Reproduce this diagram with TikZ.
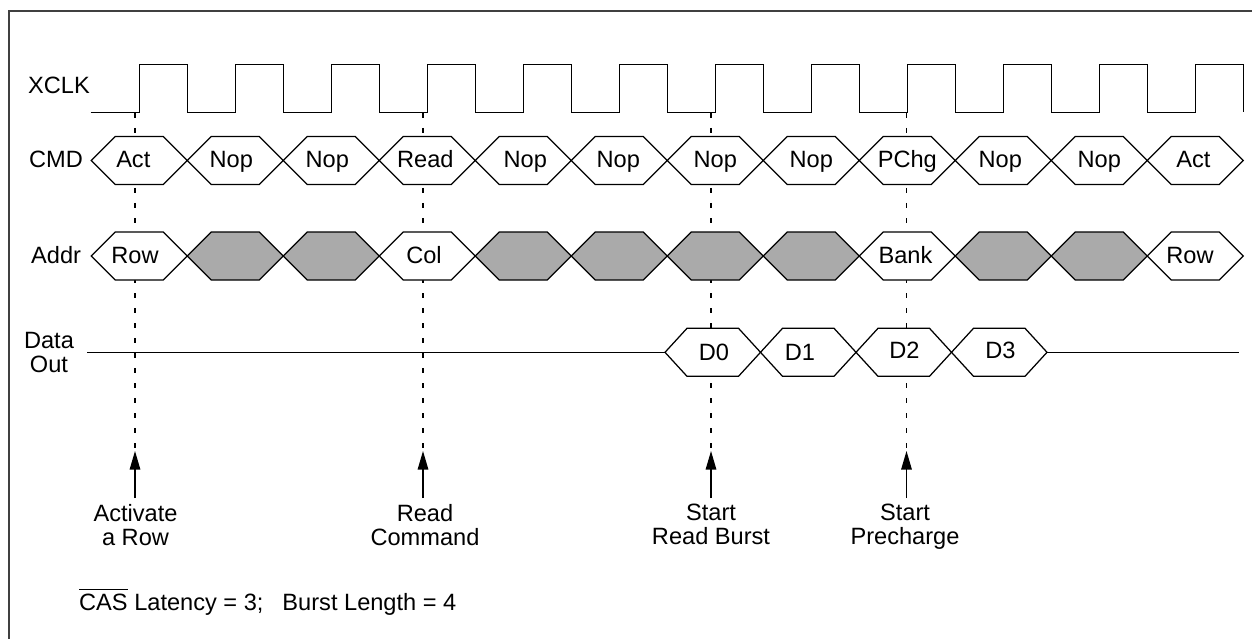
\documentclass[tikz,border=0pt]{standalone}
\usepackage{fontspec}
\setmainfont{Liberation Sans}
\usetikzlibrary{arrows.meta}
\definecolor{busygray}{RGB}{170,170,170}
\newcommand\hexcell[5]{%
  \path[#5] (#1,#3) -- ({#1+#4},{#3-24}) -- ({#2-#4},{#3-24}) -- (#2,#3)
    -- ({#2-#4},{#3+24}) -- ({#1+#4},{#3+24}) -- cycle;}
\newcommand\ovbar[1]{\leavevmode\setbox0=\hbox{#1}\rlap{\raisebox{\dimexpr\ht0+3.2pt\relax}{\rule{\wd0}{1.1pt}}}\box0\relax}
\begin{document}
\begin{tikzpicture}[x=1pt,y=-1pt,
  sig/.style={line width=1.25pt, line join=miter},
  cell/.style={sig, draw=black, fill=white},
  busy/.style={sig, draw=black, fill=busygray},
  lbl/.style={font=\fontsize{23.6}{24}\selectfont, inner sep=0pt, anchor=base},
  note/.style={font=\fontsize{23.6}{24}\selectfont, inner sep=0pt, align=center, anchor=north},
  guide/.style={line width=1.1pt, dash pattern=on 5pt off 10pt},
  marker/.style={line width=1.25pt, -{Triangle[length=18.5pt,width=10.5pt]}}]
\useasboundingbox (0,0) rectangle (1252,639);
% frame
\draw[line width=1.5pt, black!75] (9,639) -- (9,11) -- (1252,11);
% guide lines and arrows
\foreach \i/\x in {a/135, r/423, b/711, p/906.5} {
  \coordinate (top\i) at (\x,113);
  \coordinate (tip\i) at (\x,451);
  \coordinate (tail\i) at (\x,498);
  \draw[guide] (top\i) -- (tip\i);
  \draw[marker] (tail\i) -- (tip\i);
}
% clock
\draw[sig] (90.7,112.5) foreach \k in {0,...,11} { -| ({139.3+96*\k},64.3) -| ({187.3+96*\k},112.5) };
% CMD row
\foreach \k in {0,...,11} {
  \pgfmathsetmacro\xa{91.3+96*\k}\pgfmathsetmacro\xb{\xa+96}
  \hexcell{\xa}{\xb}{160.5}{24}{cell}
}
\foreach \t/\o [count=\k from 0] in {Act/-6, Nop/-4, Nop/-4, Read/-2, Nop/2, Nop/-1, Nop/0, Nop/0, PChg/0, Nop/-3, Nop/0, Act/-2} {
  \node[lbl] (cmd\k) at ({139.3+96*\k+\o},168) {\t};
}
% Addr row
\foreach \k in {0,3,8,11} {
  \pgfmathsetmacro\xa{91.3+96*\k}\pgfmathsetmacro\xb{\xa+96}
  \hexcell{\xa}{\xb}{256}{24}{cell}
}
\foreach \k in {1,2,4,5,6,7,9,10} {
  \pgfmathsetmacro\xa{91.3+96*\k}\pgfmathsetmacro\xb{\xa+96}
  \hexcell{\xa}{\xb}{256}{24}{busy}
}
\node[lbl] (addr0) at (135,263.5) {Row};
\node[lbl] (addr3) at (424,263.5) {Col};
\node[lbl] (addr8) at (905.5,263.5) {Bank};
\node[lbl] (addr11) at (1190,263.5) {Row};
% Data Out row
\coordinate (dl0) at (87,352.3);
\coordinate (dl1) at (665,352.3);
\coordinate (dr0) at (1047,352.3);
\coordinate (dr1) at (1239,352.3);
\draw[sig] (dl0) -- (dl1);
\draw[sig] (dr0) -- (dr1);
\foreach \k in {0,...,3} {
  \pgfmathsetmacro\xa{665+95.5*\k}\pgfmathsetmacro\xb{\xa+95.5}
  \hexcell{\xa}{\xb}{352.3}{22}{cell}
}
\node[lbl] (d0) at (714,360.5) {D0};
\node[lbl] (d1) at (800,360.5) {D1};
\node[lbl] (d2) at (904.5,358.5) {D2};
\node[lbl] (d3) at (1000.5,358.5) {D3};
% signal names
\node[lbl, anchor=base west] (xclk) at (28,93.3) {XCLK};
\node[lbl, anchor=base west] (cmd) at (29,168) {CMD};
\node[lbl, anchor=base west] (addr) at (31,263.5) {Addr};
\node[lbl] (data) at (49,348.3) {Data};
\node[lbl] (out) at (49,372.3) {Out};
% event labels
\node[note] (la) at (135.5,504) {Activate\\a Row};
\node[note] (lr) at (425,504) {Read\\Command};
\node[note] (lb) at (711,504) {Start\\Read Burst};
\node[note] (lp) at (905,504) {Start\\Precharge};
% footnote
\node[lbl, anchor=base west] (cas) at (79,610) {\ovbar{CAS} Latency = 3;\hspace{19pt}Burst Length = 4};
\end{tikzpicture}
\end{document}
